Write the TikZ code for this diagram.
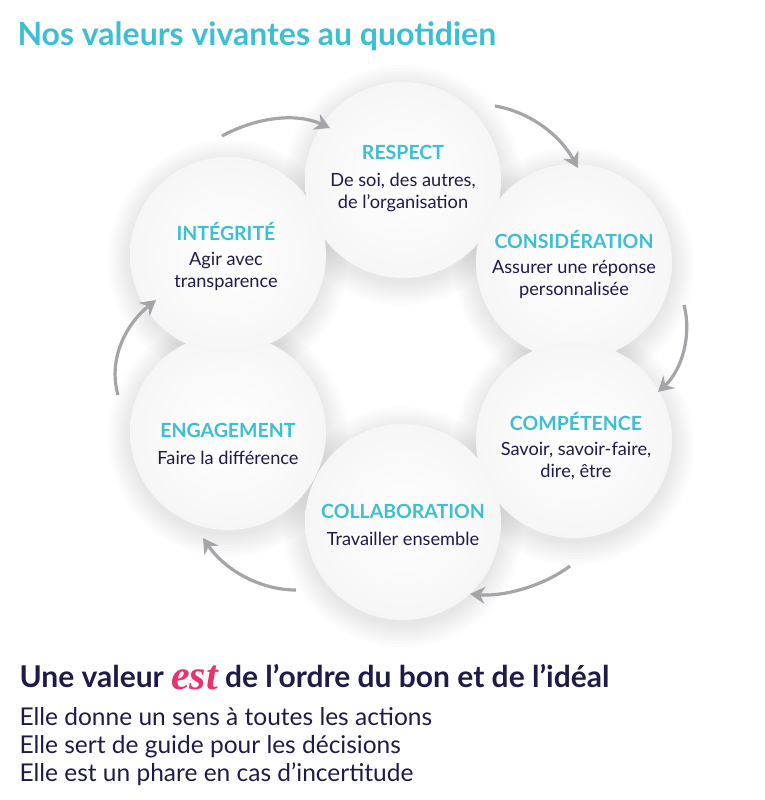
\documentclass[tikz,border=0pt]{standalone}
\usepackage{fontspec}
\setmainfont{Lato}
\newfontfamily\scriptf{Liberation Serif}
\usetikzlibrary{arrows.meta}
\definecolor{teal1}{HTML}{3CBFD2}
\definecolor{navy}{HTML}{1F1B48}
\definecolor{pink1}{HTML}{E8336B}
\definecolor{arr}{HTML}{A3A5A8}
\begin{document}
\begin{tikzpicture}[x=1pt,y=-1pt,
  val/.style={circle,minimum size=196pt,inner sep=0pt,shading=radial,inner color=white,outer color=gray!7},
  ttl/.style={text=teal1,font=\fontsize{19.5}{22}\selectfont\bfseries},
  body/.style={text=navy,font=\fontsize{18.2}{22}\selectfont,align=center},
  line/.style={anchor=base west,text=navy,font=\fontsize{24.5}{28}\selectfont},
  flow/.style={arr,line width=3.2pt,-{Stealth[length=15pt,width=17pt]}}]
\useasboundingbox (0,0) rectangle (764,800);
\node[anchor=west,text=teal1,font=\fontsize{32}{34}\selectfont\bfseries] (title) at (14,36) {Nos valeurs vivantes au quotidien};
% circles with soft shadows
\foreach \n/\x/\y in {c1/403/180,c2/574/262,c3/574/440,c4/403/522,c5/228/432,c6/228/255}{
  \foreach \r in {120,117,...,99}{\fill[black,opacity=0.012] (\x,\y+5) circle (\r);}
}
\foreach \n/\x/\y in {c1/403/180,c2/574/262,c3/574/440,c4/403/522,c5/228/432,c6/228/255}{
  \node[val] (\n) at (\x,\y) {};
}
\node[ttl] (t1) at (403,152) {RESPECT};
\node[body] (b1) at (403,192) {De soi, des autres,\\de l’organisation};
\node[ttl] (t2) at (574,240) {CONSIDÉRATION};
\node[body] (b2) at (574,279) {Assurer une réponse\\personnalisée};
\node[ttl] (t3) at (576,422) {COMPÉTENCE};
\node[body] (b3) at (576,461) {Savoir, savoir-faire,\\dire, être};
\node[ttl] (t4) at (403,511) {COLLABORATION};
\node[body] (b4) at (403,539) {Travailler ensemble};
\node[ttl] (t5) at (228,430) {ENGAGEMENT};
\node[body] (b5) at (228,458) {Faire la différence};
\node[ttl] (t6) at (226,232) {INTÉGRITÉ};
\node[body] (b6) at (226,271) {Agir avec\\transparence};
% arrows
\coordinate (a1s) at (222,136); \coordinate (a1e) at (330,128);
\coordinate (a2s) at (495,106); \coordinate (a2e) at (578,168);
\coordinate (a3s) at (684,305); \coordinate (a3e) at (658,392);
\coordinate (a4s) at (570,566); \coordinate (a4e) at (470,594);
\coordinate (a5s) at (296,590); \coordinate (a5e) at (203,538);
\coordinate (a6s) at (118,395); \coordinate (a6e) at (156,300);
\draw[flow] (a1s) .. controls (255,118) and (295,112) .. (a1e);
\draw[flow] (a2s) .. controls (530,112) and (560,135) .. (a2e);
\draw[flow] (a3s) .. controls (692,335) and (682,370) .. (a3e);
\draw[flow] (a4s) .. controls (545,585) and (505,597) .. (a4e);
\draw[flow] (a5s) .. controls (260,590) and (225,570) .. (a5e);
\draw[flow] (a6s) .. controls (108,360) and (125,325) .. (a6e);
% bottom text
\node[anchor=base west,text=navy,font=\fontsize{30}{34}\selectfont\bfseries] (h) at (16,687)
  {Une valeur \raisebox{-2pt}{\textcolor{pink1}{\scriptf\itshape\fontsize{42}{42}\selectfont est}} de l’ordre du bon et de l’idéal};
\node[line] (l1) at (16,725) {Elle donne un sens à toutes les actions};
\node[line] (l2) at (16,753) {Elle sert de guide pour les décisions};
\node[line] (l3) at (16,781) {Elle est un phare en cas d’incertitude};
\end{tikzpicture}
\end{document}
